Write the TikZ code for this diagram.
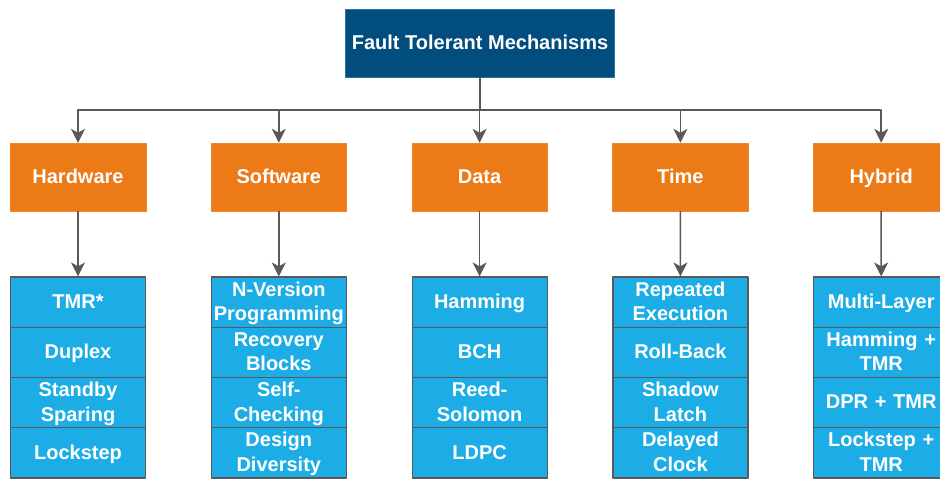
\documentclass[tikz,border=0pt]{standalone}
\usepackage{fontspec}
\setmainfont{Liberation Sans}
\usetikzlibrary{arrows.meta}
\definecolor{rootblue}{HTML}{014D7E}
\definecolor{catorange}{HTML}{EC7A17}
\definecolor{itemblue}{HTML}{1CADE7}
\definecolor{linegray}{HTML}{595959}

\begin{document}
\begin{tikzpicture}[x=1pt, y=-1pt, line join=round,
    boxfont/.style={font=\bfseries\fontsize{20}{24.5}\selectfont, text=white, text height=14.5pt, text depth=2pt},
    root/.style={boxfont, fill=rootblue, draw=rootblue!80!white, minimum width=269pt, minimum height=68pt, inner sep=0pt},
    cat/.style={boxfont, fill=catorange, draw=catorange!90!white, minimum width=135.5pt, minimum height=68pt, inner sep=0pt},
    item/.style={boxfont, fill=itemblue, draw=linegray, line width=1.2pt, align=center, text width=134pt, minimum width=135pt, minimum height=50.25pt, inner sep=0pt},
    link/.style={draw=linegray, line width=1.5pt, -{Stealth[length=14pt,width=14pt,inset=4pt]}}]
  \useasboundingbox (0,0) rectangle (940,479);

  \node[root] (ftm) at (480,43) {Fault Tolerant Mechanisms};
  \coordinate (bus) at (480,110);

  % categories
  \foreach \i/\name/\txt in {0/hw/Hardware, 1/sw/Software, 2/data/Data, 3/time/Time, 4/hyb/Hybrid} {
    \node[cat] (\name) at ({78+200.8*\i},177) {\txt};
    \draw[link] (ftm.south) -- (bus) -| (\name.north);
  }

  % mechanisms (\k = number of lines)
  \foreach \x/\name/\list in {78/hw/{1/1/TMR*, 2/1/Duplex, 3/2/{Standby\\Sparing}, 4/1/Lockstep},
      278.8/sw/{1/2/{N-Version\\Programming}, 2/2/{Recovery\\Blocks}, 3/2/{Self-\\Checking}, 4/2/{Design\\Diversity}},
      479.6/data/{1/1/Hamming, 2/1/BCH, 3/2/{Reed-\\Solomon}, 4/1/LDPC},
      680.4/time/{1/2/{Repeated\\Execution}, 2/1/Roll-Back, 3/2/{Shadow\\Latch}, 4/2/{Delayed\\Clock}},
      881.2/hyb/{1/1/Multi-Layer, 2/2/{Hamming +\\TMR}, 3/1/DPR + TMR, 4/2/{Lockstep +\\TMR}}} {
    \foreach \j/\k/\txt in \list {
      \pgfmathsetmacro\dep{24.5*\k-22.5}
      \node[item, text depth=\dep pt] (\name\j) at (\x,{277+50.25*(\j-0.5)}) {\txt};
    }
    \draw[link] (\name) -- (\name1);
  }
\end{tikzpicture}
\end{document}
